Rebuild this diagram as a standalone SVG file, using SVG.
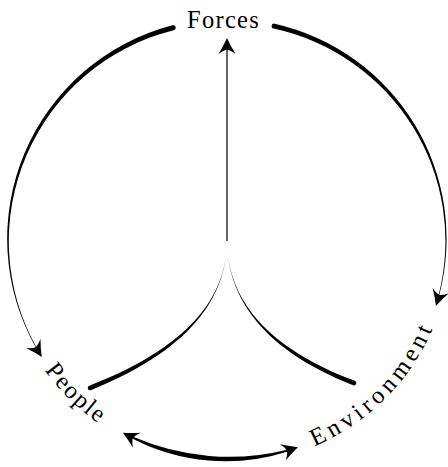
<svg xmlns="http://www.w3.org/2000/svg" xmlns:xlink="http://www.w3.org/1999/xlink" width="448" height="467" viewBox="0 0 448 467">
<style>
.lbl{font-family:"Liberation Serif","DejaVu Serif",serif;font-size:24.5px;fill:#000}
.ink{fill:#000;stroke:none}
.ln{fill:none;stroke:#000;stroke-width:1.2}
</style>
<defs>
<path id="ah" d="M0,0 Q-7,-3 -16,-8.5 Q-12,-3.5 -11.5,0 Q-12,3.5 -16,8.5 Q-7,3 0,0 Z"/>
<path id="tpPeople" d="M44.64,370.08 A224 224 0 0 0 150.39,450.49"/>
<path id="tpEnv" d="M314.52,446.19 A224 224 0 0 0 451,240"/>
</defs>
<rect width="448" height="467" fill="#fff"/>
<g id="connectors">
<path class="ink" d="M172.56,25.30 A220.5 220.5 0 0 0 36.12,347.99 L36.64,347.69 A217.5 217.5 0 0 1 173.78,30.15 A2.5 2.5 0 0 0 172.56,25.30 Z"/>
<use href="#ah" class="ink" transform="translate(41.8,356.9) rotate(57.7)"/>
<path class="ink" d="M274.67,23.68 A220.5 220.5 0 0 1 439.31,294.91 L438.73,294.76 A217.5 217.5 0 0 0 273.59,28.57 A2.5 2.5 0 0 1 274.67,23.68 Z"/>
<use href="#ah" class="ink" transform="translate(435.9,305.9) rotate(107.5)"/>
<line class="ln" x1="227" y1="241" x2="227" y2="48"/>
<use href="#ah" class="ink" transform="translate(227,38) rotate(-90)"/>
<path class="ink" d="M227,240 C227,290 199.59,346.49 90.84,390.14 A2.3 2.3 0 0 1 89.16,385.86 C198.41,343.51 227,290 227,240 Z"/>
<path class="ink" d="M227,240 C227,290 254.43,346.49 353.18,385.15 A2.3 2.3 0 0 0 354.82,380.85 C255.57,343.51 227,290 227,240 Z"/>
<path class="ink" d="M132.33,438.48 A201.5 201.5 0 0 0 287.61,451.39 L287.11,449.66 A240.5 240.5 0 0 1 133.11,436.86 Z"/>
<use href="#ah" class="ink" transform="translate(122.84,432.63) rotate(208.4)"/>
<use href="#ah" class="ink" transform="translate(297.93,447.2) rotate(-18.9)"/>
</g>
<g id="node-forces">
<text class="lbl" x="187" y="28" letter-spacing="1.3">Forces</text>
</g>
<g id="node-people">
<text class="lbl" letter-spacing="1.8"><textPath href="#tpPeople">People</textPath></text>
</g>
<g id="node-environment">
<text class="lbl" letter-spacing="4.2"><textPath href="#tpEnv">Environment</textPath></text>
</g>
</svg>
